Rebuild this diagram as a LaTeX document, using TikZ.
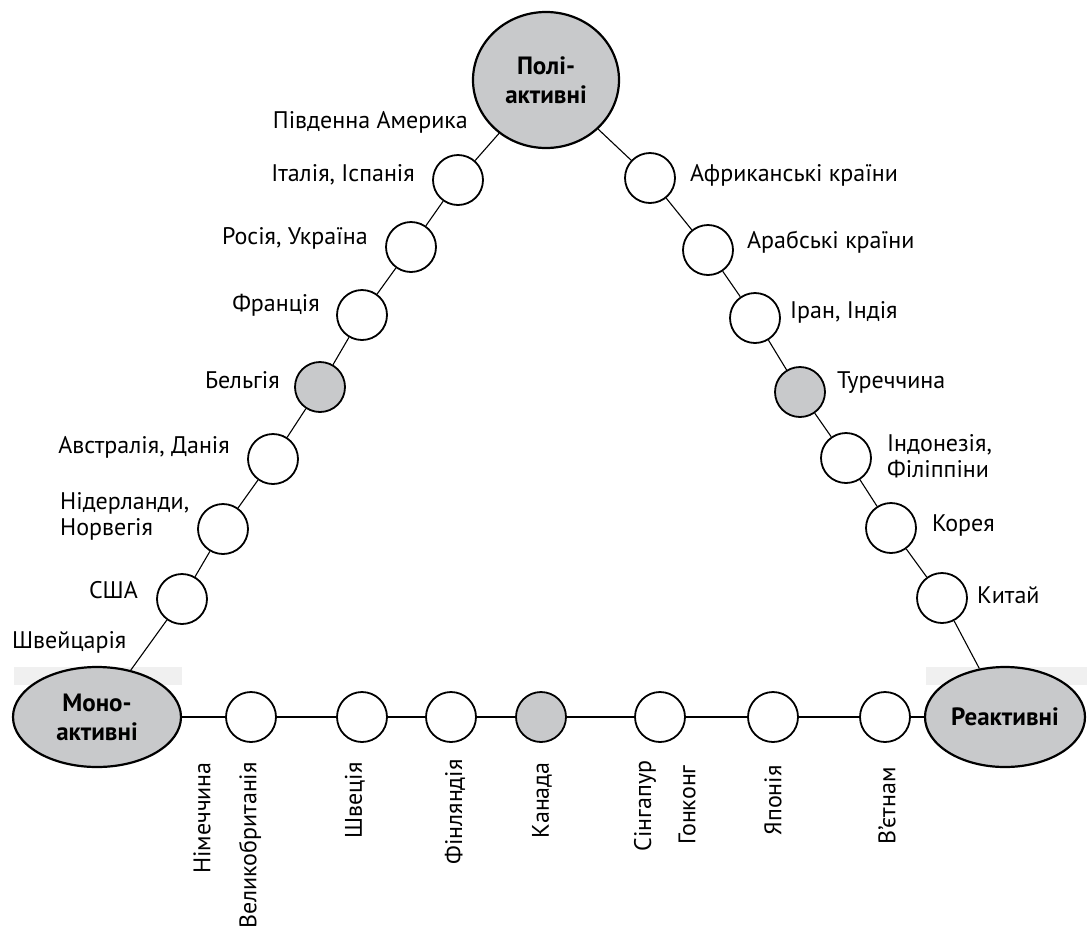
\documentclass[tikz,border=0pt]{standalone}
\usepackage{fontspec}
\setmainfont{PT Sans}
\usetikzlibrary{shapes.geometric}
\definecolor{gr}{RGB}{200,201,203}
\definecolor{band}{RGB}{240,240,240}
\begin{document}
\begin{tikzpicture}[x=1pt,y=-1pt,
  dot/.style={circle,draw,line width=1.8pt,minimum size=50pt,inner sep=0pt,fill=white},
  gdot/.style={dot,fill=gr},
  big/.style={ellipse,draw,line width=2.2pt,fill=gr,inner sep=0pt,font=\fontsize{25}{29}\selectfont\bfseries,align=center},
  lbl/.style={font=\fontsize{24}{26}\selectfont,inner sep=0pt},
  vlbl/.style={lbl,rotate=90,anchor=east},
  link/.style={line width=1.1pt}]
\useasboundingbox (0,0) rectangle (1087,927);
% faint bands
\fill[band] (14,667) rectangle (182,685);
\fill[band] (926,667) rectangle (1087,685);
% big ellipses
\node[big,minimum width=146pt,minimum height=136pt] (poly) at (546,80) {Полі-\\активні};
\node[big,minimum width=168pt,minimum height=100pt] (mono) at (97,717) {Моно-\\активні};
\node[big,minimum width=160pt,minimum height=100pt] (reakt) at (1005,717) {Реактивні};
% left side circles
\node[dot] (l1) at (458,180) {};
\node[dot] (l2) at (411,247) {};
\node[dot] (l3) at (362,315) {};
\node[gdot] (l4) at (320,387) {};
\node[dot] (l5) at (273,459) {};
\node[dot] (l6) at (223,529) {};
\node[dot] (l7) at (182,599) {};
% right side circles
\node[dot] (r1) at (650,178) {};
\node[dot] (r2) at (708,250) {};
\node[dot] (r3) at (755,318) {};
\node[gdot] (r4) at (800,392) {};
\node[dot] (r5) at (846,458) {};
\node[dot] (r6) at (891,528) {};
\node[dot] (r7) at (942,598) {};
% bottom circles
\node[dot] (b1) at (251,717) {};
\node[dot] (b2) at (362,717) {};
\node[dot] (b3) at (451,717) {};
\node[gdot] (b4) at (541,717) {};
\node[dot] (b5) at (660,717) {};
\node[dot] (b6) at (773,717) {};
\node[dot] (b7) at (885,717) {};
% connectors
\draw[link] (mono) -- (l7) -- (l6) -- (l5) -- (l4) -- (l3) -- (l2) -- (l1) -- (poly);
\draw[link] (poly) -- (r1) -- (r2) -- (r3) -- (r4) -- (r5) -- (r6) -- (r7) -- (reakt);
\draw[link] (mono) -- (b1) -- (b2) -- (b3) -- (b4) -- (b5) -- (b6) -- (b7) -- (reakt);
% left labels
\node[lbl,anchor=east] (tl0) at (468,122) {Південна Америка};
\node[lbl,anchor=east] (tl1) at (415,175) {Італія, Іспанія};
\node[lbl,anchor=east] (tl2) at (368,238) {Росія, Україна};
\node[lbl,anchor=east] (tl3) at (320,305) {Франція};
\node[lbl,anchor=east] (tl4) at (280,380) {Бельгія};
\node[lbl,anchor=east] (tl5) at (230,447) {Австралія, Данія};
\node[lbl,anchor=west,align=left] (tl6) at (60,516) {Нідерланди,\\Норвегія};
\node[lbl,anchor=east] (tl7) at (138,590) {США};
\node[lbl,anchor=west] (tl8) at (12,642) {Швейцарія};
% right labels
\node[lbl,anchor=west] (tr1) at (690,175) {Африканські країни};
\node[lbl,anchor=west] (tr2) at (747,242) {Арабські країни};
\node[lbl,anchor=west] (tr3) at (790,312) {Іран, Індія};
\node[lbl,anchor=west] (tr4) at (837,383) {Туреччина};
\node[lbl,anchor=west,align=left] (tr5) at (887,456) {Індонезія,\\Філіппіни};
\node[lbl,anchor=west] (tr6) at (932,525) {Корея};
\node[lbl,anchor=west] (tr7) at (977,595) {Китай};
% bottom labels
\node[vlbl] (v1) at (202,762) {Німеччина};
\node[vlbl] (v2) at (250,762) {Великобританія};
\node[vlbl] (v3) at (355,762) {Швеція};
\node[vlbl] (v4) at (455,759) {Фінляндія};
\node[vlbl] (v5) at (542,762) {Канада};
\node[lbl,rotate=90] (v6) at (645,806) {Сінгапур};
\node[lbl,rotate=90] (v7) at (687,805) {Гонконг};
\node[vlbl] (v8) at (773,765) {Японія};
\node[vlbl] (v9) at (887,767) {В’єтнам};
\end{tikzpicture}
\end{document}
